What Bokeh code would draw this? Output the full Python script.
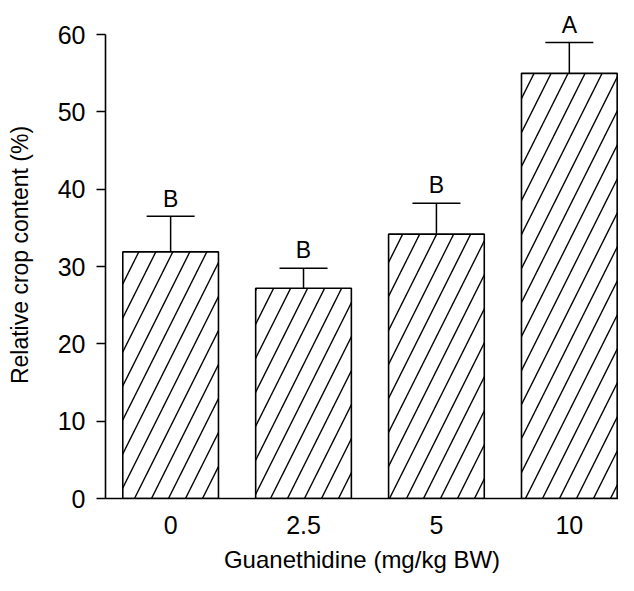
from bokeh.plotting import figure
from bokeh.models import ColumnDataSource, Whisker, TeeHead, FixedTicker, Range1d
from bokeh.embed import file_html
from bokeh.resources import INLINE
from bokeh.core.properties import value

# data
doses = ["0", "2.5", "5", "10"]
means = [31.9, 27.2, 34.2, 55.0]
errors = [4.6, 2.6, 4.0, 4.0]
letters = ["B", "B", "B", "A"]
y_ticks = [0, 10, 20, 30, 40, 50, 60]

pos = list(range(len(doses)))          # category slots on the x axis
upper = [m + e for m, e in zip(means, errors)]
letter_gap = 2.3                        # gap between cap and letter (data units)
letter_y = [u + letter_gap for u in upper]
src = ColumnDataSource(dict(x=pos, dose=doses, mean=means, upper=upper,
                            letter=letters, ly=letter_y))

FONT = "Liberation Sans"

p = figure(
    x_range=Range1d(-0.49, 3.37),
    y_range=Range1d(0, 63),
    width=618, height=575,
    output_backend="svg", toolbar_location=None,
    min_border_left=105, min_border_right=0,
    min_border_top=11, min_border_bottom=76,
)
p.outline_line_color = None
p.grid.visible = False
p.background_fill_color = "white"
p.border_fill_color = "white"

p.vbar(x="x", top="mean", width=0.72, source=src,
       fill_color="white", line_color="black", line_width=1.6,
       hatch_pattern="/", hatch_color="black", hatch_weight=1.4, hatch_scale=34)

w = Whisker(source=src, base="x", upper="upper", lower="mean", dimension="height",
            line_color="black", line_width=1.5,
            upper_head=TeeHead(size=48, line_color="black", line_width=1.5),
            lower_head=None)
p.add_layout(w)

p.text(x="x", y="ly", text="letter", source=src,
       text_align="center", text_baseline="alphabetic",
       text_font=value(FONT), text_font_size="23px", text_color="black")

# y axis
p.yaxis.ticker = FixedTicker(ticks=y_ticks)
p.yaxis.bounds = (0, 60)
p.yaxis.minor_tick_line_color = None
p.yaxis.major_tick_out = 9
p.yaxis.major_tick_in = 0
p.yaxis.major_label_standoff = 11
p.yaxis.axis_label = "Relative crop content (%)"
p.yaxis.axis_label_standoff = 22

# x axis
p.xaxis.ticker = FixedTicker(ticks=pos)
p.xaxis.major_label_overrides = {i: d for i, d in zip(pos, doses)}
p.xaxis.minor_tick_line_color = None
p.xaxis.major_tick_line_color = None
p.xaxis.major_tick_out = 0
p.xaxis.major_tick_in = 0
p.xaxis.major_label_standoff = 17
p.xaxis.axis_label = "Guanethidine (mg/kg BW)"
p.xaxis.axis_label_standoff = 9

for ax in (p.xaxis, p.yaxis):
    ax.axis_line_color = "black"
    ax.axis_line_width = 1.6
    ax.major_tick_line_width = 1.5
    ax.major_label_text_font = FONT
    ax.major_label_text_font_size = "25px"
    ax.major_label_text_color = "black"
    ax.axis_label_text_font = FONT
    ax.axis_label_text_font_style = "normal"
    ax.axis_label_text_color = "black"
p.xaxis.axis_label_text_font_size = "24px"
p.yaxis.axis_label_text_font_size = "23px"

open("out.html", "w").write(file_html(p, INLINE))
